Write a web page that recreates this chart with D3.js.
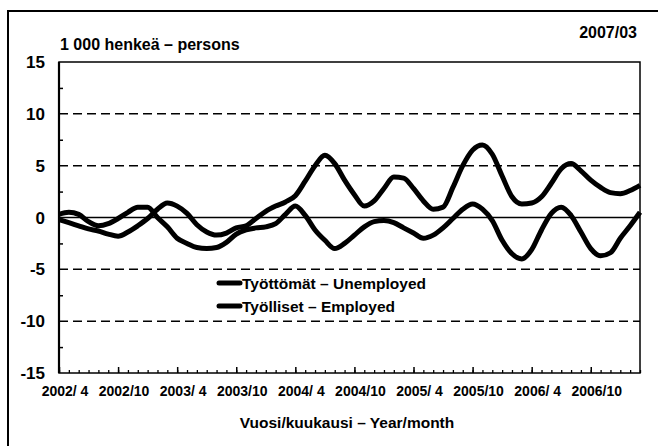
<!DOCTYPE html>
<html><head><meta charset="utf-8">
<script src="https://cdn.jsdelivr.net/npm/d3@7"></script>
<style>
html,body{margin:0;padding:0;background:#fff;}
svg{display:block;font-family:"Liberation Sans",Arial,sans-serif;font-weight:bold;}
</style></head>
<body><svg id="c" width="658" height="446"></svg>
<script>
// Categories: months 2002/4 .. 2007/3
const months = [];
for (let y = 2002; y <= 2007; y++) for (let m = 1; m <= 12; m++) {
  if ((y === 2002 && m < 4) || (y === 2007 && m > 3)) continue;
  months.push(y + "/" + m);
}
const xTickMonths = ["2002/4","2002/10","2003/4","2003/10","2004/4","2004/10","2005/4","2005/10","2006/4","2006/10"];
const xTickLabels = ["2002/ 4","2002/10","2003/ 4","2003/10","2004/ 4","2004/10","2005/ 4","2005/10","2006/ 4","2006/10"];
const yTicks = [-15,-10,-5,0,5,10,15];
const yMinorTicks = [-12.5,-7.5,-2.5,2.5,7.5,12.5];

const unemployed = [0.3,0.5,0.3,-0.4,-0.8,-0.6,-0.1,0.5,1.0,1.0,
  0.0,-0.9,-2.0,-2.5,-2.9,-3.0,-2.9,-2.4,-1.6,-1.2,
  -1.0,-0.9,-0.6,0.3,1.1,0.2,-1.2,-2.2,-3.0,-2.5,
  -1.7,-0.9,-0.4,-0.3,-0.5,-1.0,-1.5,-2.0,-1.7,-1.0,
  -0.1,0.8,1.3,0.8,-0.3,-2.2,-3.5,-4.0,-3.1,-1.2,
  0.4,1.0,0.2,-1.4,-3.0,-3.7,-3.4,-2.0,-0.8,0.5];
const employed = [-0.2,-0.5,-0.8,-1.1,-1.3,-1.6,-1.8,-1.4,-0.8,-0.1,
  0.8,1.4,1.1,0.4,-0.7,-1.4,-1.7,-1.5,-1.0,-0.8,
  -0.1,0.6,1.1,1.5,2.1,3.5,5.0,6.0,5.2,3.6,
  2.2,1.1,1.6,2.8,3.9,3.8,2.8,1.6,0.8,1.0,
  2.9,5.0,6.5,7.0,6.1,4.0,2.0,1.3,1.4,2.0,
  3.3,4.7,5.2,4.5,3.6,2.9,2.4,2.3,2.6,3.1];
const seriesNames = ["Työttömät – Unemployed","Työlliset – Employed"];

const svg = d3.select("#c");
const L = 59, R = 640, T = 62, B = 373;
const x = d3.scalePoint().domain(months).range([L, R]);
const y = d3.scaleLinear().domain([-15, 15]).range([B, T]);

// outer frame
svg.append("rect").attr("x", 8).attr("y", 11).attr("width", 670).attr("height", 460)
  .attr("fill", "none").attr("stroke", "#000").attr("stroke-width", 2);

// gridlines
svg.append("g").selectAll("line").data([-10,-5,5,10]).join("line")
  .attr("x1", L).attr("x2", R).attr("y1", d => y(d)).attr("y2", d => y(d))
  .attr("stroke", "#000").attr("stroke-width", 1.5).attr("stroke-dasharray", "9,5");
svg.append("line").attr("x1", L).attr("x2", R).attr("y1", y(0)).attr("y2", y(0))
  .attr("stroke", "#000").attr("stroke-width", 1.5);

// plot border
svg.append("rect").attr("x", L).attr("y", T).attr("width", R - L).attr("height", B - T)
  .attr("fill", "none").attr("stroke", "#000").attr("stroke-width", 1.5);
svg.append("line").attr("x1", L).attr("x2", L).attr("y1", T).attr("y2", B)
  .attr("stroke", "#000").attr("stroke-width", 2.2);

// y axis
const yAxis = d3.axisRight(y).tickValues(yMinorTicks).tickSize(4).tickFormat("");
const ga = svg.append("g").attr("transform", `translate(${L},0)`).call(yAxis);
ga.select(".domain").remove();
ga.selectAll("line").attr("stroke-width", 1.5);
svg.append("g").selectAll("text").data(yTicks).join("text")
  .attr("x", 45).attr("y", d => y(d)).attr("dy", "0.36em").attr("text-anchor", "end")
  .attr("font-size", 17).text(d => d);

// x axis ticks
const xMinor = d3.axisTop(x).tickSize(3).tickFormat("");
const gx = svg.append("g").attr("transform", `translate(0,${B})`).call(xMinor);
gx.select(".domain").remove();
gx.selectAll("line").attr("stroke-width", 1.3);
const xMajor = d3.axisTop(x).tickValues(xTickMonths).tickSize(6).tickFormat("");
const gx2 = svg.append("g").attr("transform", `translate(0,${B})`).call(xMajor);
gx2.select(".domain").remove();
gx2.selectAll("line").attr("stroke-width", 1.5);
svg.append("g").selectAll("text").data(xTickMonths).join("text")
  .attr("x", d => x(d) + 6).attr("y", 396).attr("text-anchor", "middle")
  .attr("font-size", 14).text((d, i) => xTickLabels[i]);

// lines
const line = d3.line().x((d, i) => x(months[i])).y(d => y(d)).curve(d3.curveMonotoneX);
[unemployed, employed].forEach(s => {
  svg.append("path").datum(s).attr("d", line).attr("fill", "none")
    .attr("stroke", "#000").attr("stroke-width", 5).attr("stroke-linejoin", "round");
});

// legend
seriesNames.forEach((n, i) => {
  const yy = 283 + i * 23;
  svg.append("line").attr("x1", 219).attr("x2", 240).attr("y1", yy).attr("y2", yy)
    .attr("stroke", "#000").attr("stroke-width", 5).attr("stroke-linecap", "round");
  svg.append("text").attr("x", 242).attr("y", yy + 5.5).attr("font-size", 15.5).text(n);
});

// titles
svg.append("text").attr("x", 60).attr("y", 50).attr("font-size", 16).text("1 000 henkeä – persons");
svg.append("text").attr("x", 637).attr("y", 38).attr("text-anchor", "end").attr("font-size", 16).text("2007/03");
svg.append("text").attr("x", 347).attr("y", 428).attr("text-anchor", "middle").attr("font-size", 15.5).text("Vuosi/kuukausi – Year/month");
</script></body></html>
